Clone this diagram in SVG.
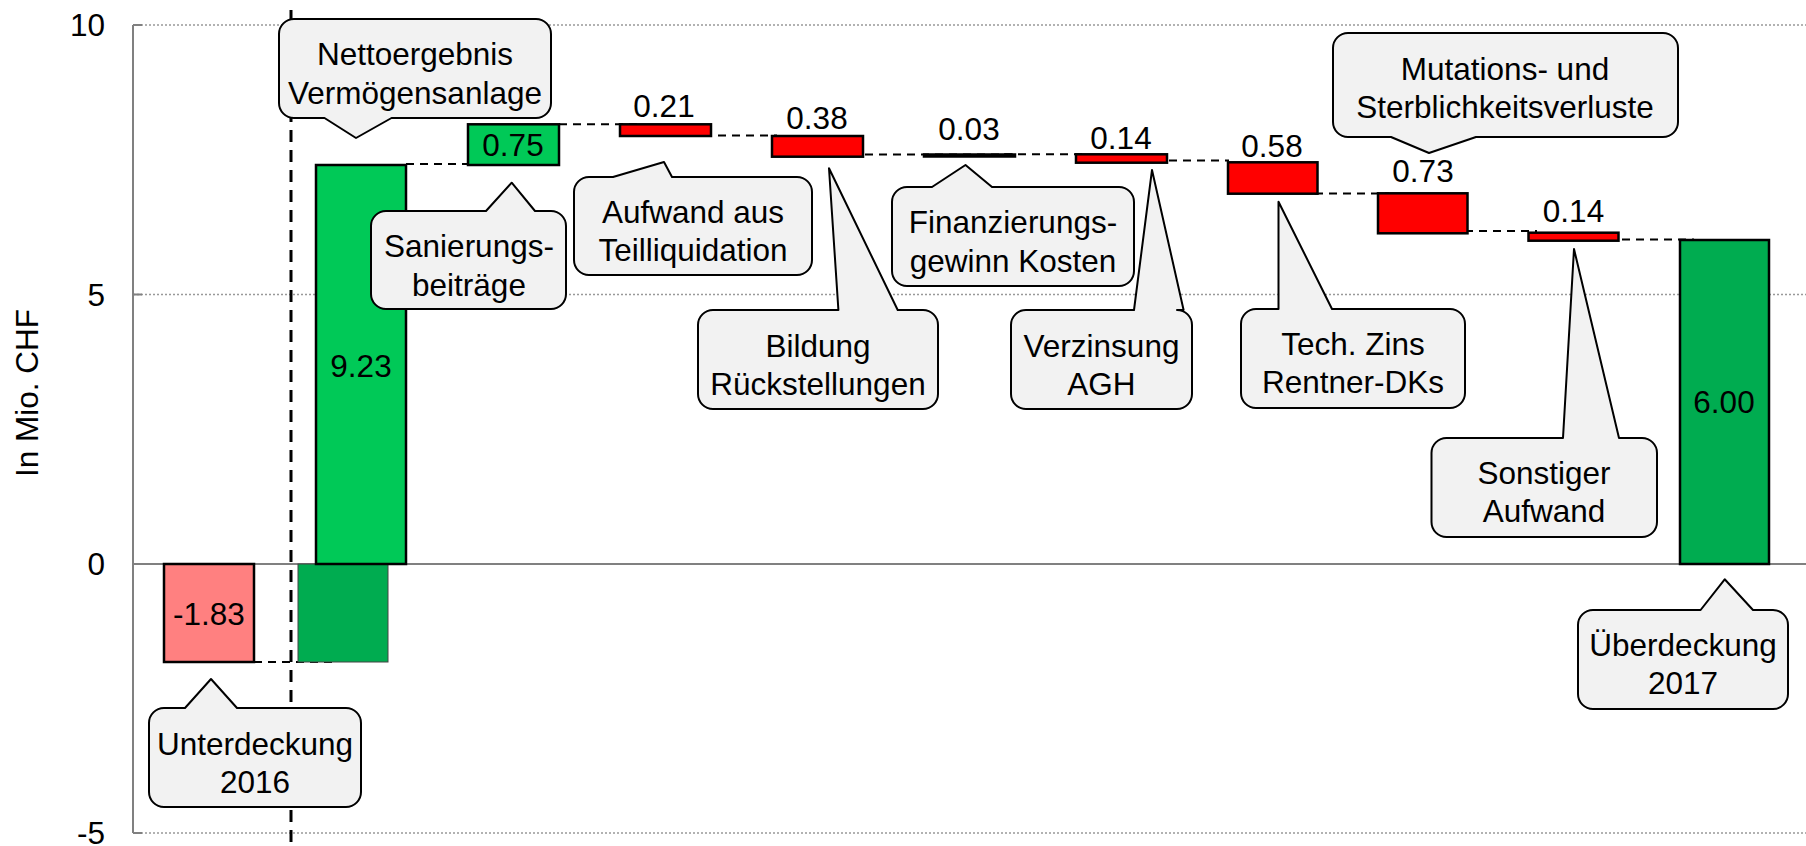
<svg xmlns="http://www.w3.org/2000/svg" width="1806" height="846" viewBox="0 0 1806 846">
<style>
text{font-family:"Liberation Sans",Arial,sans-serif;font-size:31.5px;fill:#000}
.c{text-anchor:middle}
.e{text-anchor:end}
.grid{stroke:#999;stroke-width:1.5;stroke-dasharray:2 2}
.axis{stroke:#808080;stroke-width:2;fill:none}
.bar{stroke:#000;stroke-width:2.5}
.lg{fill:#00C957}
.dg{fill:#00AC50}
.rd{fill:#FF0000}
.pk{fill:#FF8080}
.conn{stroke:#000;stroke-width:2;stroke-dasharray:8 6;fill:none}
.vdash{stroke:#000;stroke-width:3;stroke-dasharray:12 8;fill:none}
.call{fill:#F2F2F2;stroke:#000;stroke-width:2;stroke-linejoin:round}
</style>
<rect width="1806" height="846" fill="#fff"/>
<g id="axes">
<line class="grid" x1="133" y1="25" x2="1806" y2="25"/>
<line class="grid" x1="133" y1="294.5" x2="1806" y2="294.5"/>
<line class="grid" x1="133" y1="833" x2="1806" y2="833"/>
<line class="axis" x1="133" y1="564" x2="1806" y2="564"/>
<line class="axis" x1="133" y1="25" x2="133" y2="833"/>
<path class="axis" d="M133,25H142M133,294.5H142M133,833H142"/>
<text class="e" x="105" y="36">10</text>
<text class="e" x="105" y="305.5">5</text>
<text class="e" x="105" y="575">0</text>
<text class="e" x="105" y="844">-5</text>
<text class="c" transform="translate(38,393) rotate(-90)">In Mio. CHF</text>
</g>
<g id="divider">
<line class="vdash" x1="291" y1="10" x2="291" y2="846"/>
</g>
<g id="connectors">
<path class="conn" d="M254,662H332"/>
<path class="conn" d="M406,164H488"/>
<path class="conn" d="M559,124.3H640"/>
<path class="conn" d="M690,135.5H777"/>
<path class="conn" d="M851,154.5H1013"/>
<path class="conn" d="M1004,154.3H1086"/>
<path class="conn" d="M1155,160.5H1229"/>
<path class="conn" d="M1315,193.5H1389"/>
<path class="conn" d="M1451,231H1537"/>
<path class="conn" d="M1608,239.5H1694"/>
</g>
<g id="bars">
<g id="bar-2016"><rect class="bar pk" x="164" y="564" width="90" height="98"/><text class="c" x="209" y="625">-1.83</text></g>
<g id="bar-verm"><rect class="dg" x="298" y="564" width="90" height="98" stroke="#444" stroke-width="1"/><rect class="bar lg" x="316" y="165" width="90" height="399"/><text class="c" x="361" y="377">9.23</text></g>
<g id="bar-san"><rect class="bar lg" x="468" y="124.3" width="91" height="40.7"/><text class="c" x="513" y="156">0.75</text></g>
<g id="bar-teil"><rect class="bar rd" x="620" y="124.3" width="91" height="11.7"/><text class="c" x="664" y="117">0.21</text></g>
<g id="bar-rueck"><rect class="bar rd" x="772" y="136" width="91" height="20.7"/><text class="c" x="817" y="129">0.38</text></g>
<g id="bar-fin"><rect class="bar rd" x="924" y="154.5" width="91" height="2"/><text class="c" x="969" y="140">0.03</text></g>
<g id="bar-agh"><rect class="bar rd" x="1076" y="154.3" width="91" height="8.4"/><text class="c" x="1121" y="149">0.14</text></g>
<g id="bar-tech"><rect class="bar rd" x="1228" y="162.3" width="89.5" height="31.4"/><text class="c" x="1272" y="157">0.58</text></g>
<g id="bar-mut"><rect class="bar rd" x="1378" y="193.3" width="89.5" height="40"/><text class="c" x="1423" y="182">0.73</text></g>
<g id="bar-sonst"><rect class="bar rd" x="1528.5" y="232.7" width="90" height="8"/><text class="c" x="1573.5" y="221.5">0.14</text></g>
<g id="bar-2017"><rect class="bar dg" x="1680" y="240" width="89" height="324"/><text class="c" x="1724" y="413">6.00</text></g>
</g>
<g id="callout-netto">
<path class="call" d="M294,19H536A15,15 0 0 1 551,34V103A15,15 0 0 1 536,118H391.5L356,138L324.5,118H294A15,15 0 0 1 279,103V34A15,15 0 0 1 294,19Z"/>
<text class="c" x="415" y="65">Nettoergebnis</text>
<text class="c" x="415" y="104">Vermögensanlage</text>
</g>
<g id="callout-san">
<path class="call" d="M386,211H486L511.7,182.7L535,211H551A15,15 0 0 1 566,226V294A15,15 0 0 1 551,309H386A15,15 0 0 1 371,294V226A15,15 0 0 1 386,211Z"/>
<text class="c" x="469" y="257">Sanierungs-</text>
<text class="c" x="469" y="295.5">beiträge</text>
</g>
<g id="callout-teil">
<path class="call" d="M589,177H613L664,162L672,177H797A15,15 0 0 1 812,192V260A15,15 0 0 1 797,275H589A15,15 0 0 1 574,260V192A15,15 0 0 1 589,177Z"/>
<text class="c" x="693" y="222.7">Aufwand aus</text>
<text class="c" x="693" y="260.7">Teilliquidation</text>
</g>
<g id="callout-rueck">
<path class="call" d="M713,310H838.4L829,168.3L897.7,310H923A15,15 0 0 1 938,325V394A15,15 0 0 1 923,409H713A15,15 0 0 1 698,394V325A15,15 0 0 1 713,310Z"/>
<text class="c" x="818" y="356.7">Bildung</text>
<text class="c" x="818" y="395">Rückstellungen</text>
</g>
<g id="callout-fin">
<path class="call" d="M907,187H932L965.5,165L992,187H1119A15,15 0 0 1 1134,202V271A15,15 0 0 1 1119,286H907A15,15 0 0 1 892,271V202A15,15 0 0 1 907,187Z"/>
<text class="c" x="1013" y="232.7">Finanzierungs-</text>
<text class="c" x="1013" y="271.5">gewinn Kosten</text>
</g>
<g id="callout-agh">
<path class="call" d="M1026,310H1134L1152,170L1183.6,310H1177A15,15 0 0 1 1192,325V394A15,15 0 0 1 1177,409H1026A15,15 0 0 1 1011,394V325A15,15 0 0 1 1026,310Z"/>
<text class="c" x="1101.5" y="356.7">Verzinsung</text>
<text class="c" x="1101.5" y="395">AGH</text>
</g>
<g id="callout-tech">
<path class="call" d="M1256,309H1278.5L1278.5,201.7L1332,309H1450A15,15 0 0 1 1465,324V393A15,15 0 0 1 1450,408H1256A15,15 0 0 1 1241,393V324A15,15 0 0 1 1256,309Z"/>
<text class="c" x="1353" y="355">Tech. Zins</text>
<text class="c" x="1353" y="392.7">Rentner-DKs</text>
</g>
<g id="callout-mut">
<path class="call" d="M1348,33H1663A15,15 0 0 1 1678,48V122A15,15 0 0 1 1663,137H1476L1429,153L1391,137H1348A15,15 0 0 1 1333,122V48A15,15 0 0 1 1348,33Z"/>
<text class="c" x="1505" y="80">Mutations- und</text>
<text class="c" x="1505" y="118.3">Sterblichkeitsverluste</text>
</g>
<g id="callout-sonst">
<path class="call" d="M1446.5,438H1563L1574,249L1619,438H1642A15,15 0 0 1 1657,453V522A15,15 0 0 1 1642,537H1446.5A15,15 0 0 1 1431.5,522V453A15,15 0 0 1 1446.5,438Z"/>
<text class="c" x="1544" y="484">Sonstiger</text>
<text class="c" x="1544" y="522.3">Aufwand</text>
</g>
<g id="callout-2017">
<path class="call" d="M1593,610H1700.6L1724.7,579.3L1753,610H1773A15,15 0 0 1 1788,625V694A15,15 0 0 1 1773,709H1593A15,15 0 0 1 1578,694V625A15,15 0 0 1 1593,610Z"/>
<text class="c" x="1683" y="656">Überdeckung</text>
<text class="c" x="1683" y="694.3">2017</text>
</g>
<g id="callout-2016">
<path class="call" d="M164,708H185L211,679L237,708H346A15,15 0 0 1 361,723V792A15,15 0 0 1 346,807H164A15,15 0 0 1 149,792V723A15,15 0 0 1 164,708Z"/>
<text class="c" x="255" y="755">Unterdeckung</text>
<text class="c" x="255" y="792.7">2016</text>
</g>
</svg>
